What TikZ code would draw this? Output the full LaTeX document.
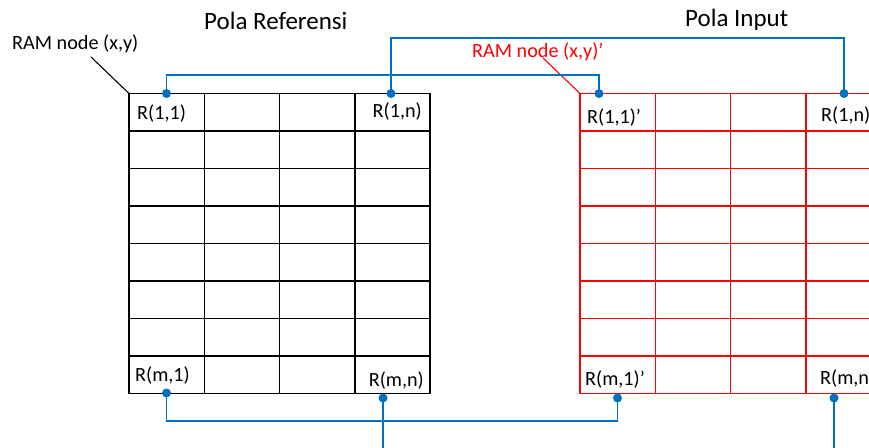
\documentclass[tikz,border=0pt]{standalone}
\usepackage{fontspec}
\setmainfont{Carlito}
\definecolor{linkblue}{HTML}{0070C0}
\definecolor{inred}{HTML}{FF0000}
\begin{document}
\begin{tikzpicture}[x=1bp,y=-1bp,
  gridline/.style={line width=1.5bp},
  cell/.style={inner sep=0pt, font=\fontsize{20.2bp}{23bp}\selectfont},
  title/.style={inner sep=0pt, font=\fontsize{25bp}{29bp}\selectfont},
  link/.style={draw=linkblue, line width=1.6bp},
  pin/.style={fill=linkblue, circle, inner sep=0pt, minimum size=9bp},
  leader/.style={line width=1.1bp}]
\clip (0,0) rectangle (869,448);

% reference pattern grid (4 x 8 cells)
\foreach \i in {0,...,4}
  \draw[gridline] ({129+75.25*\i},93.5) -- ({129+75.25*\i},393.5);
\foreach \j in {0,...,8}
  \draw[gridline] (128.25,{93.5+37.5*\j}) -- (430.75,{93.5+37.5*\j});

% input pattern grid, running past the right edge
\foreach \i in {0,...,4}
  \draw[gridline, inred] ({580+75.3*\i},93.5) -- ({580+75.3*\i},393.5);
\foreach \j in {0,...,8}
  \draw[gridline, inred] (579.25,{93.5+37.5*\j}) -- (890,{93.5+37.5*\j});

% titles
\node[title, anchor=base west] (tref) at (204,29.3) {Pola Referensi};
\node[title, anchor=base west] (tinp) at (685,27) {Pola Input};

% RAM node callouts
\node[cell, anchor=base west] (ramref) at (12,49.5) {RAM node (x,y)};
\coordinate (reftail) at (91,57);
\coordinate (refcorner) at (129,93.5);
\draw[leader] (reftail) -- (refcorner);

\node[cell, anchor=base west, text=inred] (raminp) at (472,57.5) {RAM node (x,y)'};
\coordinate (inptail) at (543,58);
\coordinate (inpcorner) at (580,93.5);
\draw[leader, inred] (inptail) -- (inpcorner);

% cell labels
\node[cell, anchor=base west] (lr11) at (137,120) {R(1,1)};
\node[cell, anchor=base east] (lr1n) at (422,117.5) {R(1,n)};
\node[cell, anchor=base west] (lrm1) at (135,382) {R(m,1)};
\node[cell, anchor=base east] (lrmn) at (424,386.5) {R(m,n)};
\node[cell, anchor=base west] (li11) at (587,124) {R(1,1)’};
\node[cell, anchor=base west] (li1n) at (821,121.5) {R(1,n)};
\node[cell, anchor=base west] (lim1) at (585,385.5) {R(m,1)’};
\node[cell, anchor=base west] (limn) at (820,385) {R(m,n)};

% pins
\coordinate (pr11) at (166.5,93.5);
\coordinate (pr1n) at (391,93.5);
\coordinate (prm1) at (166.5,393);
\coordinate (prmn) at (383,398);
\coordinate (pi11) at (599,93.5);
\coordinate (pi1n) at (844,93.5);
\coordinate (pim1) at (617.5,398);
\coordinate (pimn) at (834,398);
\coordinate (prmnend) at (383,450);
\coordinate (pimnend) at (834,450);

% blue connections between the two patterns
\draw[link] (pr11) -- (pr11 |- 0,75) -| (pi11);
\draw[link] (pr1n) -- (pr1n |- 0,38) -| (pi1n);
\draw[link] (prm1) -- (prm1 |- 0,421) -| (pim1);
\draw[link] (prmn) -- (prmnend);
\draw[link] (pimn) -- (pimnend);

\foreach \p in {pr11,pr1n,prm1,prmn,pi11,pi1n,pim1,pimn}
  \node[pin] at (\p) {};
\end{tikzpicture}
\end{document}
